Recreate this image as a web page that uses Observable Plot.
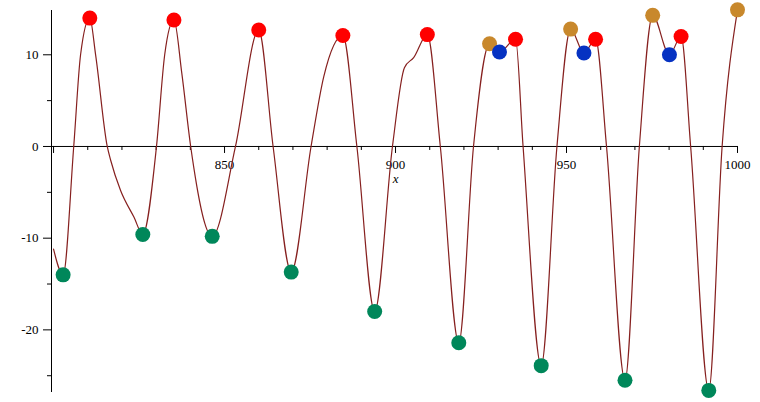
<!DOCTYPE html>
<html><head><meta charset="utf-8">
<script src="https://cdn.jsdelivr.net/npm/d3@7"></script>
<script src="https://cdn.jsdelivr.net/npm/@observablehq/plot@0.6"></script>
<style>body{margin:0;background:#fff}#chart{width:760px;height:402px}</style>
</head><body><div id="chart"></div>
<script>
// curve knots
const curveX = [800, 802.8, 805.9, 807.9, 810.6, 812.3, 815.7, 816.7, 819.6, 823.5, 826.1, 830.1, 832.5, 835.2, 837.5, 840.1, 846.4, 853.2, 860.0, 864.2, 869.5, 875.3, 879.0, 884.6, 888.7, 893.9, 899.1, 902.6, 905.3, 909.3, 913.1, 918.5, 922.8, 927.5, 930.4, 935.1, 937.3, 942.6, 947.2, 951.2, 955.1, 958.5, 961.7, 967.1, 971.3, 975.2, 980.1, 983.5, 986.3, 991.6, 995.5, 1000];
const curveY = [-11.2, -14.0, 0, 10, 14.0, 10, 0, -1.5, -4.8, -7.7, -9.6, 0, 10, 13.8, 8, 0, -9.8, 0, 12.7, 0, -13.7, 0, 7.6, 12.1, 0, -18.0, 0, 8.6, 9.7, 12.2, 0, -21.4, 0, 11.2, 10.3, 11.7, 0, -23.9, 0, 12.8, 10.2, 11.7, 0, -25.5, 0, 14.3, 10.0, 12.0, 0, -26.6, 0, 14.9];

const redX = [810.6, 835.2, 860.0, 884.6, 909.3, 935.1, 958.5, 983.5];
const redY = [14.0, 13.8, 12.7, 12.1, 12.2, 11.7, 11.7, 12.0];
const goldX = [927.5, 951.2, 975.2, 1000];
const goldY = [11.2, 12.8, 14.3, 14.9];
const blueX = [930.4, 955.1, 980.1];
const blueY = [10.3, 10.2, 10.0];
const greenX = [802.8, 826.1, 846.4, 869.5, 893.9, 918.5, 942.6, 967.1, 991.6];
const greenY = [-14.0, -9.6, -9.8, -13.7, -18.0, -21.4, -23.9, -25.5, -26.6];

const xMajor = [800, 850, 900, 950, 1000];
const xLabelTicks = [850, 900, 950, 1000];
const xLabels = ["850", "900", "950", "1000"];
const xMinor = [810, 820, 830, 840, 860, 870, 880, 890, 910, 920, 930, 940, 960, 970, 980, 990];
const yMajor = [-20, -10, 0, 10];
const yLabels = ["-20", "-10", "0", "10"];
const yMinor = [-25, -15, -5, 5];

const W = 760, H = 402, mL = 51, mR = 23, mT = 10, mB = 10;
const xDom = [799.4, 1000], yDom = [-26.83, 14.83];
const kx = (W - mL - mR) / (xDom[1] - xDom[0]);
const ky = (H - mT - mB) / (yDom[1] - yDom[0]);

const curve = curveX.map((x, i) => ({x, y: curveY[i]}));
const pts = (xs, ys) => xs.map((x, i) => ({x, y: ys[i]}));
const font = {fontFamily: "Liberation Serif, Times New Roman, serif", fontSize: 13, fill: "#000"};

const chart = Plot.plot({
  width: W, height: H,
  marginLeft: mL, marginRight: mR, marginTop: mT, marginBottom: mB,
  x: {domain: xDom, axis: null},
  y: {domain: yDom, axis: null},
  marks: [
    // axes lines
    Plot.ruleY([0], {x1: xDom[0], x2: xDom[1], stroke: "#000", strokeWidth: 1}),
    Plot.ruleX([xDom[0]], {y1: yDom[0], y2: yDom[1], stroke: "#000", strokeWidth: 1}),
    // x ticks
    Plot.ruleX(xMajor, {x: d => d, y1: 0, y2: -7 / ky, stroke: "#000"}),
    Plot.ruleX(xMinor, {x: d => d, y1: 0, y2: -4 / ky, stroke: "#000"}),
    // y ticks
    Plot.ruleY(yMajor, {y: d => d, x1: xDom[0], x2: xDom[0] - 8 / kx, stroke: "#000"}),
    Plot.ruleY(yMinor, {y: d => d, x1: xDom[0], x2: xDom[0] - 4 / kx, stroke: "#000"}),
    // labels
    Plot.text(xLabelTicks, {x: d => d, y: 0, text: (d, i) => xLabels[i], dy: 18, ...font}),
    Plot.text(["x"], {x: 900, y: 0, text: d => d, dy: 32, fontStyle: "italic", ...font}),
    Plot.text(yMajor, {x: xDom[0], y: d => d, text: (d, i) => yLabels[i], dx: -13, textAnchor: "end", ...font}),
    // curve
    Plot.line(curve, {x: "x", y: "y", curve: "monotone-x", stroke: "#86201f", strokeWidth: 1.2}),
    // points
    Plot.dot(pts(greenX, greenY), {x: "x", y: "y", r: 7.5, fill: "#00875a", stroke: "none"}),
    Plot.dot(pts(redX, redY), {x: "x", y: "y", r: 7.5, fill: "#ff0000", stroke: "none"}),
    Plot.dot(pts(goldX, goldY), {x: "x", y: "y", r: 7.5, fill: "#c8882c", stroke: "none"}),
    Plot.dot(pts(blueX, blueY), {x: "x", y: "y", r: 7.5, fill: "#0632c2", stroke: "none"})
  ]
});
document.getElementById("chart").appendChild(chart);
</script>
</body></html>
